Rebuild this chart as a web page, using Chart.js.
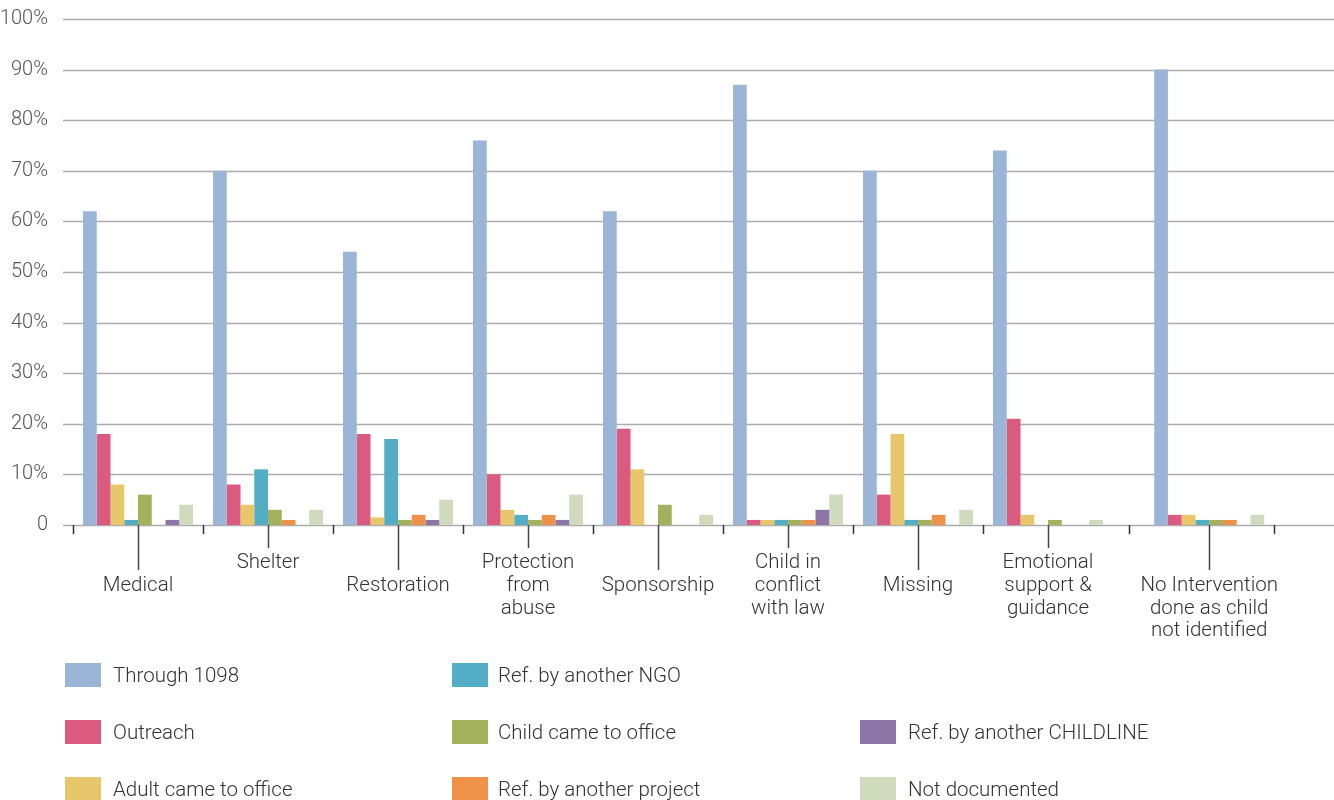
<!DOCTYPE html>
<html>
<head>
<meta charset="utf-8">
<script src="https://cdn.jsdelivr.net/npm/chart.js@4"></script>
<style>
  html, body { margin: 0; padding: 0; background: #fff; }
  #wrap { position: relative; width: 1334px; height: 800px; overflow: hidden; }
  #legend .item { position: absolute; height: 24px; font: 300 20.5px Roboto, "Open Sans", sans-serif; color: #333; white-space: nowrap; }
  #legend .sw { position: absolute; left: 0; top: 0; width: 36px; height: 24px; }
  #legend .lbl { position: absolute; top: 0; line-height: 24px; }
</style>
</head>
<body>
<div id="wrap">
  <canvas id="chart" width="1334" height="800"></canvas>
  <div id="legend"></div>
</div>
<script>
// intervention types; a leading "" pushes a label one line lower
const categories = [
  ["", "Medical"],
  ["Shelter"],
  ["", "Restoration"],
  ["Protection", "from", "abuse"],
  ["", "Sponsorship"],
  ["Child in", "conflict", "with law"],
  ["", "Missing"],
  ["Emotional", "support &", "guidance"],
  ["", "No Intervention", "done as child", "not identified"]
];

const seriesNames = [
  "Through 1098", "Outreach", "Adult came to office", "Ref. by another NGO",
  "Child came to office", "Ref. by another project", "Ref. by another CHILDLINE", "Not documented"
];

const through1098   = [62, 70, 54, 76, 62, 87, 70, 74, 90];
const outreach      = [18, 8, 18, 10, 19, 1, 6, 21, 2];
const adultOffice   = [8, 4, 1.5, 3, 11, 1, 18, 2, 2];
const refNgo        = [1, 11, 17, 2, 0, 1, 1, 0, 1];
const childOffice   = [6, 3, 1, 1, 4, 1, 1, 1, 1];
const refProject    = [0, 1, 2, 2, 0, 1, 2, 0, 1];
const refChildline  = [1, 0, 1, 1, 0, 3, 0, 0, 0];
const notDocumented = [4, 3, 5, 6, 2, 6, 3, 1, 2];

const yTicks = [0, 10, 20, 30, 40, 50, 60, 70, 80, 90, 100];

const colors = ["#9ab5d6", "#db5a80", "#e8c66c", "#53adc4", "#a3b15c", "#ed9248", "#8d75a8", "#cfdbbc"];
const seriesData = [through1098, outreach, adultOffice, refNgo, childOffice, refProject, refChildline, notDocumented];

// the last group sits a little apart from the others
const lastGap = 0.24;
const slot = i => i === categories.length - 1 ? i + lastGap : i;

// full-width horizontal grid
const gridPlugin = {
  id: 'wideGrid',
  beforeDatasetsDraw(chart) {
    const ctx = chart.ctx, y = chart.scales.y;
    ctx.save();
    ctx.strokeStyle = '#adadad';
    ctx.lineWidth = 1.5;
    yTicks.forEach(v => {
      const py = Math.round(y.getPixelForValue(v)) + 0.5;
      ctx.beginPath();
      ctx.moveTo(63, py);
      ctx.lineTo(1334, py);
      ctx.stroke();
    });
    ctx.restore();
  }
};

// short marks between groups + leader lines down to each label
const markPlugin = {
  id: 'marks',
  afterDraw(chart) {
    const ctx = chart.ctx, x = chart.scales.x, base = Math.round(chart.scales.y.getPixelForValue(0));
    const n = categories.length;
    const bounds = [slot(0) - 0.5];
    for (let i = 0; i < n - 1; i++) bounds.push((slot(i) + slot(i + 1)) / 2);
    bounds.push(slot(n - 1) + 0.5);

    ctx.save();
    ctx.strokeStyle = '#333';
    ctx.lineWidth = 1.5;
    bounds.forEach(b => {
      const px = Math.round(x.getPixelForValue(b)) + 0.5;
      ctx.beginPath();
      ctx.moveTo(px, base);
      ctx.lineTo(px, base + 9);
      ctx.stroke();
    });
    ctx.strokeStyle = '#444';
    categories.forEach((c, i) => {
      const px = Math.round(x.getPixelForValue(slot(i))) + 0.5;
      const end = c[0] === "" ? base + 45 : base + 23;
      ctx.beginPath();
      ctx.moveTo(px, base);
      ctx.lineTo(px, end);
      ctx.stroke();
    });
    ctx.restore();
  }
};

new Chart(document.getElementById('chart'), {
  type: 'bar',
  data: {
    datasets: seriesNames.map((name, i) => ({
      label: name,
      data: seriesData[i].map((v, k) => ({ x: slot(k), y: v })),
      backgroundColor: colors[i],
      borderWidth: 0,
      categoryPercentage: 0.846,
      barPercentage: 1
    }))
  },
  options: {
    responsive: false,
    animation: false,
    layout: { padding: { left: 0, right: 0, top: 19, bottom: 0 } },
    plugins: { legend: { display: false }, tooltip: { enabled: false } },
    scales: {
      y: {
        min: 0,
        max: 100,
        afterBuildTicks: s => { s.ticks = yTicks.map(v => ({ value: v })); },
        afterFit: s => { s.width = 73; s.paddingTop = 0; s.paddingBottom = 0; },
        grid: { display: false },
        border: { display: false },
        ticks: {
          padding: 17,
          color: '#555',
          font: { family: 'Roboto', weight: 300, size: 20 },
          callback: v => v === 0 ? '0' : v + '%'
        }
      },
      x: {
        type: 'linear',
        offset: false,
        min: -0.5,
        max: -0.5 + (1334 - 73) / 130,
        afterBuildTicks: s => { s.ticks = categories.map((c, i) => ({ value: slot(i) })); },
        afterFit: s => { s.height = 275; s.paddingLeft = 0; s.paddingRight = 0; },
        border: { display: false },
        grid: { display: false },
        ticks: {
          padding: 18,
          maxRotation: 0,
          autoSkip: false,
          color: '#333',
          font: { family: 'Roboto', weight: 300, size: 20.5, lineHeight: 1.12 },
          callback: (v, i) => categories[i]
        }
      }
    }
  },
  plugins: [gridPlugin, markPlugin]
});

// legend: three columns, the third one starts on the second row
const legendSlots = [[65, 663], [65, 720], [65, 777], [452, 663], [452, 720], [452, 777], [860, 720], [860, 777]];
const legend = document.getElementById('legend');
seriesNames.forEach((name, i) => {
  const item = document.createElement('div');
  item.className = 'item';
  item.style.left = legendSlots[i][0] + 'px';
  item.style.top = legendSlots[i][1] + 'px';
  item.innerHTML = '<span class="sw" style="background:' + colors[i] + '"></span><span class="lbl" style="left:' + (i < 6 && i > 2 ? 46 : 48) + 'px">' + name + '</span>';
  legend.appendChild(item);
});
</script>
</body>
</html>
